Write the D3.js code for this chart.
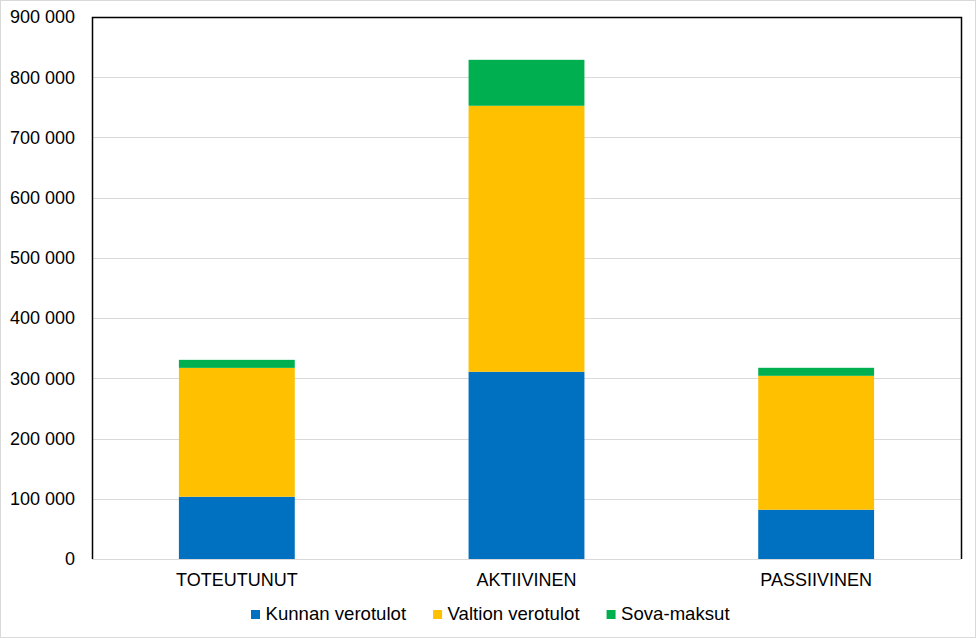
<!DOCTYPE html>
<html>
<head>
<meta charset="utf-8">
<script src="https://cdn.jsdelivr.net/npm/d3@7"></script>
<style>
  body { margin: 0; background: #fff; }
  text { font-family: "Liberation Sans", Arial, sans-serif; font-size: 18px; fill: #000; }
  .legend text { font-size: 18.6px; }
</style>
</head>
<body>
<div id="chart"></div>
<script>
const categories = ['TOTEUTUNUT', 'AKTIIVINEN', 'PASSIIVINEN'];
const seriesNames = ['Kunnan verotulot', 'Valtion verotulot', 'Sova-maksut'];
const kunnan = [103400, 310900, 81800];
const valtion = [214000, 441700, 222400];
const sova = [13300, 76300, 13300];
const yTicks = [0, 100000, 200000, 300000, 400000, 500000, 600000, 700000, 800000, 900000];

const width = 976, height = 638;
const margin = { top: 17, right: 15, bottom: 79, left: 92 };
const colors = ['#0070C0', '#FFC000', '#00B050'];

const rows = categories.map((c, i) => ({
    cat: c, 'Kunnan verotulot': kunnan[i], 'Valtion verotulot': valtion[i], 'Sova-maksut': sova[i]
}));
const stacked = d3.stack().keys(seriesNames)(rows);

const svg = d3.select('#chart').append('svg')
    .attr('width', width)
    .attr('height', height);

// ulkoreunus
svg.append('rect')
    .attr('x', 0.5).attr('y', 0.5)
    .attr('width', width - 1).attr('height', height - 1)
    .attr('fill', '#fff')
    .attr('stroke', '#d9d9d9');

const x = d3.scaleBand()
    .domain(categories)
    .range([margin.left, width - margin.right])
    .paddingInner(0.6)
    .paddingOuter(0.3);

const y = d3.scaleLinear()
    .domain([0, 900000])
    .range([height - margin.bottom, margin.top]);

const fi = d3.formatLocale({ decimal: ',', thousands: '\u00a0', grouping: [3], currency: ['', ''] });
const fmt = fi.format(',d');

// ruudukko
svg.append('g')
    .selectAll('line')
    .data(yTicks)
    .join('line')
    .attr('x1', margin.left)
    .attr('x2', width - margin.right)
    .attr('y1', d => Math.round(y(d)) + 0.5)
    .attr('y2', d => Math.round(y(d)) + 0.5)
    .attr('stroke', '#d9d9d9')
    .attr('stroke-width', 1);

// y-akselin tekstit
svg.append('g')
    .selectAll('text')
    .data(yTicks)
    .join('text')
    .attr('x', margin.left - 17)
    .attr('y', d => y(d))
    .attr('dy', '0.35em')
    .attr('text-anchor', 'end')
    .text(d => fmt(d));

// pylväät
svg.append('g')
    .selectAll('g')
    .data(stacked)
    .join('g')
    .attr('fill', (d, i) => colors[i])
    .selectAll('rect')
    .data(d => d)
    .join('rect')
    .attr('x', d => x(d.data.cat))
    .attr('width', x.bandwidth())
    .attr('y', d => y(d[1]))
    .attr('height', d => y(d[0]) - y(d[1]));

// kuvaajan reunat (vasen, ylä, oikea)
const plotL = margin.left + 0.5, plotR = width - margin.right + 0.5;
const plotT = margin.top + 0.5, plotB = height - margin.bottom;
svg.append('path')
    .attr('d', `M${plotL},${plotB} L${plotL},${plotT} L${plotR},${plotT} L${plotR},${plotB}`)
    .attr('fill', 'none')
    .attr('stroke', '#000')
    .attr('stroke-width', 1.5);

// x-akselin tekstit
svg.append('g')
    .selectAll('text')
    .data(categories)
    .join('text')
    .attr('x', d => x(d) + x.bandwidth() / 2)
    .attr('y', 586)
    .attr('text-anchor', 'middle')
    .text(d => d);

// selite
const legend = svg.append('g').attr('class', 'legend');
const items = legend.selectAll('g')
    .data(seriesNames)
    .join('g');
items.append('rect')
    .attr('width', 9).attr('height', 9)
    .attr('y', 610)
    .attr('fill', (d, i) => colors[i]);
items.append('text')
    .attr('x', 14.5)
    .attr('y', 620)
    .text(d => d);

let offset = 0;
const gap = 27;
items.each(function() {
    const w = d3.select(this).select('text').node().getComputedTextLength();
    d3.select(this).attr('transform', `translate(${offset},0)`);
    offset += 14.5 + w + gap;
});
const total = offset - gap;
legend.attr('transform', `translate(${Math.round(490 - total / 2)},0)`);
</script>
</body>
</html>
